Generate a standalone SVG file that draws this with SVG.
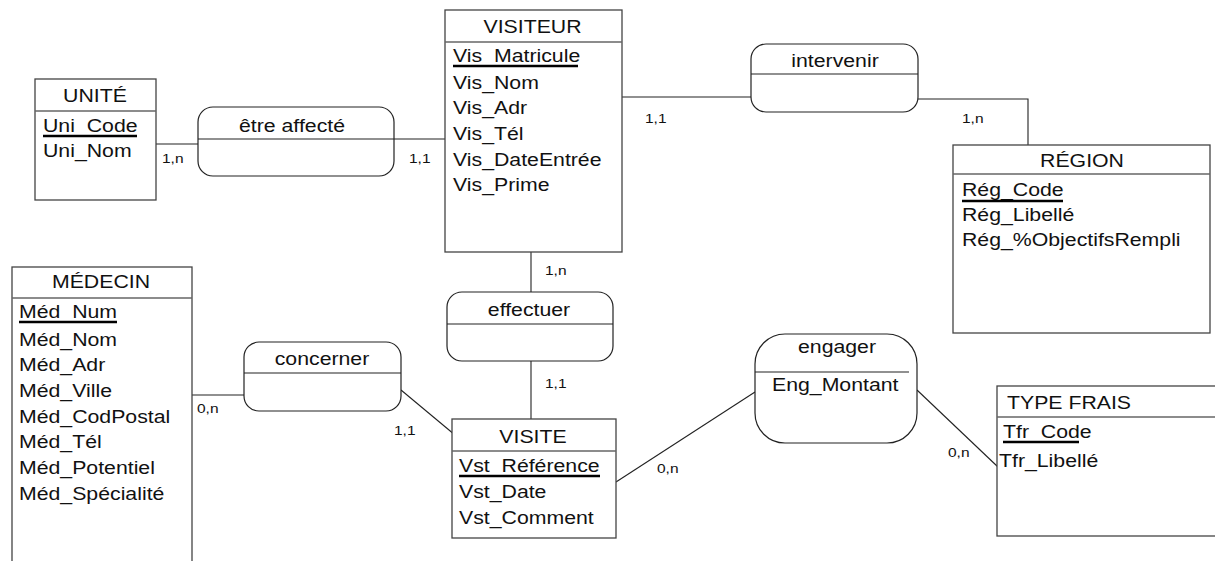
<svg xmlns="http://www.w3.org/2000/svg" width="1215" height="561" viewBox="0 0 1215 561">
  <style>
    .ent { fill: #fff; stroke: #444; stroke-width: 1.3; }
    .rel { fill: #fff; stroke: #222; stroke-width: 1.2; }
    .sep { stroke: #666; stroke-width: 1.5; }
    .pk { stroke: #000; stroke-width: 2.5; }
    .link { fill: none; stroke: #222; stroke-width: 1.1; }
    text { font-family: "Liberation Sans", Arial, sans-serif; fill: #111; }
    .t { font-size: 18.5px; }
    .c { text-anchor: middle; }
    .card { font-size: 13.5px; }
  </style>
  <rect width="1215" height="561" fill="#fff"/>

  <!-- associations between entities -->
  <g id="connectors">
    <polyline class="link" points="156,144 198,144"/>
    <polyline class="link" points="394,139 445,139"/>
    <polyline class="link" points="622,97 751,97"/>
    <polyline class="link" points="918,99 1028,99 1028,145"/>
    <polyline class="link" points="531,252 531,292"/>
    <polyline class="link" points="531,361 531,419"/>
    <polyline class="link" points="192,395 244,395"/>
    <polyline class="link" points="401,390 455,435"/>
    <polyline class="link" points="616,482 755,392"/>
    <polyline class="link" points="917,390 998,467"/>
    <text class="card" transform="translate(162,163) scale(1.15,1)">1,n</text>
    <text class="card" transform="translate(409,163) scale(1.15,1)">1,1</text>
    <text class="card" transform="translate(645,123) scale(1.15,1)">1,1</text>
    <text class="card" transform="translate(962,123) scale(1.15,1)">1,n</text>
    <text class="card" transform="translate(545,275) scale(1.15,1)">1,n</text>
    <text class="card" transform="translate(545,388) scale(1.15,1)">1,1</text>
    <text class="card" transform="translate(197,413) scale(1.15,1)">0,n</text>
    <text class="card" transform="translate(394,435) scale(1.15,1)">1,1</text>
    <text class="card" transform="translate(657,473) scale(1.15,1)">0,n</text>
    <text class="card" transform="translate(948,457) scale(1.15,1)">0,n</text>
  </g>

  <!-- entities -->
  <g id="unite">
    <rect class="ent" x="35" y="79" width="121" height="121"/>
    <line class="sep" x1="35" y1="111" x2="156" y2="111"/>
    <text class="t c" transform="translate(95,102) scale(1.15,1)">UNITÉ</text>
    <text class="t" transform="translate(43,132) scale(1.15,1)">Uni_Code</text>
    <line class="pk" x1="43" y1="136" x2="137" y2="136"/>
    <text class="t" transform="translate(43,157) scale(1.15,1)">Uni_Nom</text>
  </g>

  <g id="visiteur">
    <rect class="ent" x="445" y="10" width="177" height="242"/>
    <line class="sep" x1="445" y1="42" x2="622" y2="42"/>
    <text class="t c" transform="translate(532.5,33) scale(1.15,1)">VISITEUR</text>
    <text class="t" transform="translate(453,62) scale(1.15,1)">Vis_Matricule</text>
    <line class="pk" x1="453" y1="66" x2="578" y2="66"/>
    <text class="t" transform="translate(453,89) scale(1.15,1)">Vis_Nom</text>
    <text class="t" transform="translate(453,114) scale(1.15,1)">Vis_Adr</text>
    <text class="t" transform="translate(453,139.5) scale(1.15,1)">Vis_Tél</text>
    <text class="t" transform="translate(453,165.5) scale(1.15,1)">Vis_DateEntrée</text>
    <text class="t" transform="translate(453,191) scale(1.15,1)">Vis_Prime</text>
  </g>

  <g id="region">
    <rect class="ent" x="953" y="145" width="257" height="188"/>
    <line class="sep" x1="953" y1="174" x2="1210" y2="174"/>
    <text class="t c" transform="translate(1082,167) scale(1.15,1)">RÉGION</text>
    <text class="t" transform="translate(962,196) scale(1.15,1)">Rég_Code</text>
    <line class="pk" x1="962" y1="201" x2="1063" y2="201"/>
    <text class="t" transform="translate(962,220.5) scale(1.15,1)">Rég_Libellé</text>
    <text class="t" transform="translate(962,245.5) scale(1.15,1)">Rég_%ObjectifsRempli</text>
  </g>

  <g id="medecin">
    <rect class="ent" x="12" y="267" width="180" height="310"/>
    <line class="sep" x1="12" y1="298" x2="192" y2="298"/>
    <text class="t c" transform="translate(101,288) scale(1.15,1)">MÉDECIN</text>
    <text class="t" transform="translate(19,318) scale(1.15,1)">Méd_Num</text>
    <line class="pk" x1="19" y1="322" x2="117" y2="322"/>
    <text class="t" transform="translate(19,346) scale(1.15,1)">Méd_Nom</text>
    <text class="t" transform="translate(19,371) scale(1.15,1)">Méd_Adr</text>
    <text class="t" transform="translate(19,397) scale(1.15,1)">Méd_Ville</text>
    <text class="t" transform="translate(19,422.5) scale(1.15,1)">Méd_CodPostal</text>
    <text class="t" transform="translate(19,448) scale(1.15,1)">Méd_Tél</text>
    <text class="t" transform="translate(19,474) scale(1.15,1)">Méd_Potentiel</text>
    <text class="t" transform="translate(19,499.5) scale(1.15,1)">Méd_Spécialité</text>
  </g>

  <g id="visite">
    <rect class="ent" x="452" y="419" width="164" height="119"/>
    <line class="sep" x1="452" y1="451" x2="616" y2="451"/>
    <text class="t c" transform="translate(533,443) scale(1.15,1)">VISITE</text>
    <text class="t" transform="translate(459,472) scale(1.15,1)">Vst_Référence</text>
    <line class="pk" x1="459" y1="476" x2="600" y2="476"/>
    <text class="t" transform="translate(459,498) scale(1.15,1)">Vst_Date</text>
    <text class="t" transform="translate(459,523.5) scale(1.15,1)">Vst_Comment</text>
  </g>

  <g id="type-frais">
    <rect class="ent" x="997" y="386" width="240" height="150"/>
    <line class="sep" x1="997" y1="417" x2="1215" y2="417"/>
    <text class="t" transform="translate(1007,409) scale(1.15,1)">TYPE FRAIS</text>
    <text class="t" transform="translate(1003,438) scale(1.15,1)">Tfr_Code</text>
    <line class="pk" x1="1003" y1="442" x2="1079" y2="442"/>
    <text class="t" transform="translate(999,467) scale(1.15,1)">Tfr_Libellé</text>
  </g>

  <!-- relationships -->
  <g id="etre-affecte">
    <rect class="rel" x="198" y="107" width="196" height="69" rx="15" ry="15"/>
    <line class="link" x1="198" y1="139" x2="394" y2="139"/>
    <text class="t c" transform="translate(292,131.5) scale(1.15,1)">être affecté</text>
  </g>

  <g id="intervenir">
    <rect class="rel" x="751" y="44" width="167" height="68" rx="15" ry="15"/>
    <line class="link" x1="751" y1="74" x2="918" y2="74"/>
    <text class="t c" transform="translate(835,66.5) scale(1.15,1)">intervenir</text>
  </g>

  <g id="effectuer">
    <rect class="rel" x="447" y="292" width="166" height="69" rx="15" ry="15"/>
    <line class="link" x1="447" y1="324" x2="613" y2="324"/>
    <text class="t c" transform="translate(529,315.5) scale(1.15,1)">effectuer</text>
  </g>

  <g id="concerner">
    <rect class="rel" x="244" y="342" width="157" height="69" rx="15" ry="15"/>
    <line class="link" x1="244" y1="373" x2="401" y2="373"/>
    <text class="t c" transform="translate(322,365) scale(1.15,1)">concerner</text>
  </g>

  <g id="engager">
    <rect class="rel" x="755" y="334" width="162" height="109" rx="30" ry="30"/>
    <line class="link" x1="755" y1="372" x2="909" y2="372"/>
    <text class="t c" transform="translate(837,353) scale(1.15,1)">engager</text>
    <text class="t" transform="translate(772,390.5) scale(1.15,1)">Eng_Montant</text>
  </g>
</svg>
